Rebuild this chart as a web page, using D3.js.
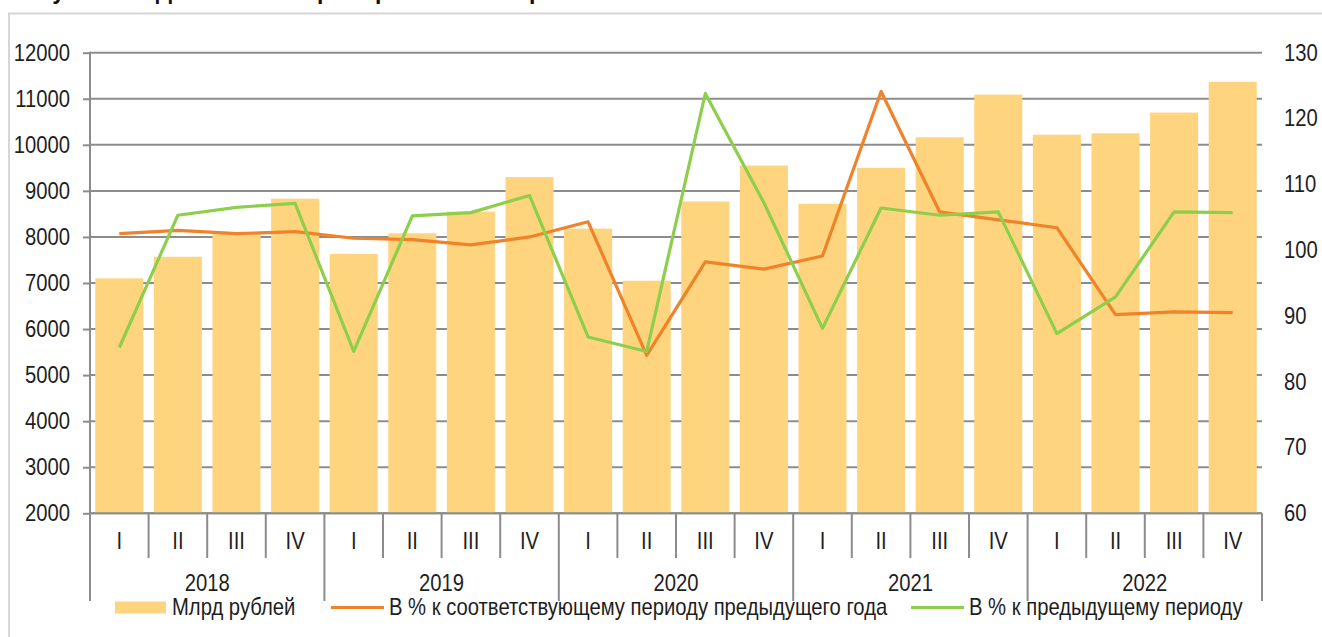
<!DOCTYPE html>
<html>
<head>
<meta charset="utf-8">
<script src="https://cdn.jsdelivr.net/npm/d3@7"></script>
<style>
  html, body { margin: 0; padding: 0; background: #fff; }
  svg { display: block; }
  .lbl { font-family: "Liberation Sans Narrow", "Arial Narrow", "Liberation Sans", Arial, sans-serif; fill: #1e1e1e; }
</style>
</head>
<body>
<svg id="chart" width="1322" height="637"></svg>
<script>
// Quarterly retail turnover, 2018–2022
const years = ["2018", "2019", "2020", "2021", "2022"];
const quarters = ["I", "II", "III", "IV"];
const valuesBn = [7100, 7570, 8070, 8830, 7630, 8080, 8550, 9300, 8180, 7050,
                  8770, 9550, 8720, 9500, 10165, 11090, 10220, 10250, 10700, 11370];
const pctYoY = [102.5, 103.0, 102.5, 102.8, 101.8, 101.6, 100.8, 102.0, 104.3, 84.0,
                98.2, 97.1, 99.1, 124.1, 105.8, 104.6, 103.4, 90.2, 90.6, 90.5];
const pctQoQ = [85.2, 105.3, 106.5, 107.1, 84.6, 105.2, 105.7, 108.3, 86.8, 84.6,
                123.8, 107.2, 88.1, 106.4, 105.3, 105.8, 87.3, 92.9, 105.8, 105.7];
const leftTicks = [2000, 3000, 4000, 5000, 6000, 7000, 8000, 9000, 10000, 11000, 12000];
const rightTicks = [60, 70, 80, 90, 100, 110, 120, 130];
const legendLabels = ["Млрд рублей", "В % к соответствующему периоду предыдущего года", "В % к предыдущему периоду"];
const titleText = "Рисунок 2.1. Динамика оборота розничной торговли";

const colBar = "#FED57E", colYoY = "#F0822A", colQoQ = "#8DCF4C", colGrid = "#8C8C8C";

const svg = d3.select("#chart");
const L = 90, R = 1262, T = 52.7, B = 513.3;
const fs = 23, sx = 0.88;   // narrow lettering: regular face squeezed horizontally

const cats = [];
years.forEach(y => quarters.forEach(q => cats.push(y + "-" + q)));

const x = d3.scaleBand().domain(cats).range([L, R]).paddingInner(0.18).paddingOuter(0.09);
const yL = d3.scaleLinear().domain([2000, 12000]).range([B, T]);
const yR = d3.scaleLinear().domain([60, 130]).range([B, T]);
const step = (R - L) / cats.length;

// narrow text placed at (px, py)
function label(g, px, py, txt, anchor) {
  return g.append("text").attr("class", "lbl").attr("font-size", fs)
    .attr("transform", `translate(${px},${py}) scale(${sx},1)`)
    .attr("text-anchor", anchor || "start").text(txt);
}

// outer frame (partly outside the view)
svg.append("rect").attr("x", 9).attr("y", 13.5).attr("width", 1400).attr("height", 700)
  .attr("fill", "none").attr("stroke", "#D6D6D6").attr("stroke-width", 2);

// heading, mostly above the visible area
svg.append("text").attr("x", 10).attr("y", -1)
  .attr("font-family", "Liberation Sans, Arial, sans-serif").attr("font-weight", "bold")
  .attr("font-size", 23).attr("fill", "#111").text(titleText);

// horizontal gridlines
svg.append("g").selectAll("line").data(leftTicks).join("line")
  .attr("x1", L).attr("x2", R).attr("y1", d => yL(d)).attr("y2", d => yL(d))
  .attr("stroke", colGrid).attr("stroke-width", 2);

// bars
svg.append("g").selectAll("rect").data(valuesBn).join("rect")
  .attr("x", (d, i) => x(cats[i])).attr("width", x.bandwidth())
  .attr("y", d => yL(d)).attr("height", d => B - yL(d))
  .attr("fill", colBar);

// left axis
const gL = svg.append("g").attr("transform", `translate(${L},0)`)
  .call(d3.axisLeft(yL).tickValues(leftTicks).tickSize(7).tickPadding(13).tickFormat(d3.format("d")));
gL.select(".domain").remove();
gL.selectAll(".tick line").attr("stroke", colGrid).attr("stroke-width", 2);
gL.selectAll(".tick text").attr("class", "lbl").attr("font-size", fs).attr("fill", "#1e1e1e")
  .attr("x", -20 / sx).attr("transform", `scale(${sx},1)`);
svg.append("line").attr("x1", L).attr("x2", L).attr("y1", T - 1).attr("y2", 601)
  .attr("stroke", colGrid).attr("stroke-width", 2);

// right axis labels
const gR = svg.append("g").attr("transform", `translate(${R},0)`)
  .call(d3.axisRight(yR).tickValues(rightTicks).tickSize(0).tickPadding(22));
gR.select(".domain").remove();
gR.selectAll(".tick text").attr("class", "lbl").attr("font-size", fs).attr("fill", "#1e1e1e")
  .attr("x", 22 / sx).attr("transform", `scale(${sx},1)`);

// category axis
svg.append("line").attr("x1", L).attr("x2", R).attr("y1", B).attr("y2", B)
  .attr("stroke", colGrid).attr("stroke-width", 2);
const seps = d3.range(cats.length + 1);
svg.append("g").selectAll("line").data(seps).join("line")
  .attr("x1", i => L + i * step).attr("x2", i => L + i * step)
  .attr("y1", B).attr("y2", i => (i % 4 === 0 ? 601 : 558))
  .attr("stroke", colGrid).attr("stroke-width", 2);
const gQ = svg.append("g");
cats.forEach(d => label(gQ, x(d) + x.bandwidth() / 2, 549, d.split("-")[1], "middle"));
const gY = svg.append("g");
years.forEach((d, i) => label(gY, L + (i * 4 + 2) * step, 591, d, "middle"));

// lines
const pctLine = d3.line().x((d, i) => x(cats[i]) + x.bandwidth() / 2).y(d => yR(d));
svg.append("path").datum(pctYoY).attr("d", pctLine)
  .attr("fill", "none").attr("stroke", colYoY).attr("stroke-width", 3.2).attr("stroke-linejoin", "round");
svg.append("path").datum(pctQoQ).attr("d", pctLine)
  .attr("fill", "none").attr("stroke", colQoQ).attr("stroke-width", 3.2).attr("stroke-linejoin", "round");

// legend
const lg = svg.append("g");
lg.append("rect").attr("x", 115).attr("y", 601.5).attr("width", 51).attr("height", 12).attr("fill", colBar);
label(lg, 172, 615, legendLabels[0]);
lg.append("line").attr("x1", 331).attr("x2", 384).attr("y1", 607.5).attr("y2", 607.5)
  .attr("stroke", colYoY).attr("stroke-width", 3.2);
label(lg, 389, 615, legendLabels[1]);
lg.append("line").attr("x1", 911).attr("x2", 964).attr("y1", 607.5).attr("y2", 607.5)
  .attr("stroke", colQoQ).attr("stroke-width", 3.2);
label(lg, 969, 615, legendLabels[2]);
</script>
</body>
</html>
